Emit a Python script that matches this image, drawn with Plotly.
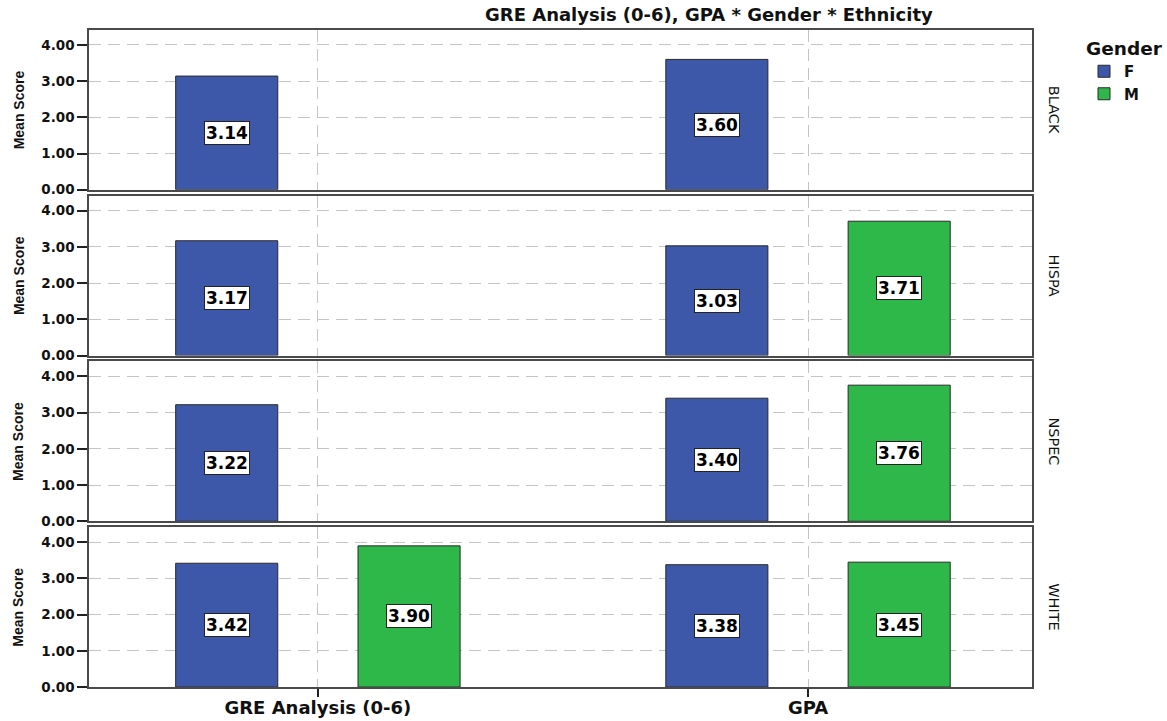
import plotly.graph_objects as go

# ---------------- data ----------------
ethnicities = ["BLACK", "HISPA", "NSPEC", "WHITE"]
measures = ["GRE Analysis (0-6)", "GPA"]
gender_labels = ["F", "M"]
female_black = [3.14, 3.60]
female_hispa = [3.17, 3.03]
female_nspec = [3.22, 3.40]
female_white = [3.42, 3.38]
male_black = [None, None]
male_hispa = [None, 3.71]
male_nspec = [None, 3.76]
male_white = [3.90, 3.45]
y_ticks = [0, 1, 2, 3, 4]
title_text = "GRE Analysis (0-6), GPA * Gender * Ethnicity"
y_title = "Mean Score"
legend_title = "Gender"

female_rows = [female_black, female_hispa, female_nspec, female_white]
male_rows = [male_black, male_hispa, male_nspec, male_white]

# ---------------- style / layout ----------------
W = 1167
REF_H = 721          # reference image height (layout positions measured in it)
FIG_H = 728          # figure height (screenshot is compressed vertically to 721)
X0, X1 = 89, 1032
TOPS = [30, 196, 362, 528]
PH = 160
COL_F = "#3d58a8"
COL_M = "#2eb84a"
EDGE = "#2a2a2a"
FRAME = "#4a4a4a"
GRID = "#c4c4c4"
BARGAP = 0.256
BARGROUPGAP = 0.44
OFF = (1 - BARGAP) / 4
BOLD_FAMILY = "DejaVu Sans"
PLAIN_FAMILY = "Liberation Sans, Arial"


def px(xp):
    return xp / W


def py(yp):
    return 1 - yp / REF_H


fig = go.Figure()
annotations = []
x_idx = list(range(len(measures)))

for i, eth in enumerate(ethnicities):
    sfx = "" if i == 0 else str(i + 1)
    for g, (vals, col) in enumerate([(female_rows[i], COL_F), (male_rows[i], COL_M)]):
        fig.add_trace(go.Bar(
            x=x_idx, y=vals, name=gender_labels[g],
            marker=dict(color=col, line=dict(color=EDGE, width=1)),
            legendgroup=gender_labels[g], showlegend=(i == 0),
            xaxis="x" + sfx, yaxis="y" + sfx, hoverinfo="skip",
        ))
        for j, v in enumerate(vals):
            if v is None:
                continue
            annotations.append(dict(
                x=j + (-OFF if g == 0 else OFF), y=v / 2,
                xref="x" + sfx, yref="y" + sfx,
                text=f"{v:.2f}", showarrow=False,
                bgcolor="white", bordercolor="#222", borderwidth=1, borderpad=1,
                font=dict(family=BOLD_FAMILY, size=17, color="black", weight="bold"),
            ))
    top = py(TOPS[i])
    bot = py(TOPS[i] + PH)
    last = i == len(ethnicities) - 1
    fig.layout["xaxis" + sfx] = dict(
        domain=[px(X0), px(X1)], anchor="y" + sfx,
        range=[-0.467, 1.457], tickvals=x_idx, ticktext=measures,
        showticklabels=last, ticks="outside" if last else "", ticklen=8,
        tickcolor="#222", tickwidth=2, ticklabelstandoff=-4,
        showgrid=True, gridcolor=GRID, griddash="12px,7px", gridwidth=1.3,
        showline=True, linecolor=FRAME, linewidth=1.5, mirror=True,
        zeroline=False, matches="x" if i > 0 else None,
        tickfont=dict(family=BOLD_FAMILY, size=18, color="#111", weight="bold"),
        fixedrange=True,
    )
    fig.layout["yaxis" + sfx] = dict(
        domain=[bot, top], anchor="x" + sfx,
        range=[0, PH / 36.25], tickvals=y_ticks,
        ticktext=[f"{t:.2f}" for t in y_ticks],
        ticks="outside", ticklen=10, tickcolor="#222", tickwidth=2,
        showgrid=True, gridcolor=GRID, griddash="12px,7px", gridwidth=1.3,
        showline=True, linecolor=FRAME, linewidth=1.5, mirror=True,
        zeroline=False,
        tickfont=dict(family=BOLD_FAMILY, size=13.5, color="#111", weight="bold"),
        fixedrange=True,
    )
    ymid = py(TOPS[i] + PH / 2)
    annotations.append(dict(
        x=px(18.5), y=ymid, xref="paper", yref="paper", text=y_title,
        textangle=-90, showarrow=False, xanchor="center", yanchor="middle",
        font=dict(family=PLAIN_FAMILY, size=14, color="#111", weight="bold"),
    ))
    annotations.append(dict(
        x=px(1054), y=ymid, xref="paper", yref="paper", text=eth,
        textangle=90, showarrow=False, xanchor="center", yanchor="middle",
        font=dict(family=BOLD_FAMILY, size=14.5, color="#111"),
    ))

annotations.append(dict(
    x=px(709), y=py(15), xref="paper", yref="paper", text=title_text,
    showarrow=False, xanchor="center", yanchor="middle",
    font=dict(family=BOLD_FAMILY, size=18, color="#111", weight="bold"),
))

fig.update_layout(
    width=W, height=FIG_H, autosize=False,
    margin=dict(l=0, r=0, t=0, b=0),
    paper_bgcolor="white", plot_bgcolor="white",
    barmode="group", bargap=BARGAP, bargroupgap=BARGROUPGAP,
    annotations=annotations,
    legend=dict(
        x=px(1084), y=py(31), xanchor="left", yanchor="top",
        title=dict(text=legend_title, font=dict(family=BOLD_FAMILY, size=18.5, color="#111", weight="bold")),
        font=dict(family=BOLD_FAMILY, size=15, color="#111", weight="bold"),
        tracegroupgap=0, itemclick=False, itemdoubleclick=False,
        bgcolor="rgba(0,0,0,0)",
    ),
    showlegend=True,
)

fig.write_html(
    "out.html",
    config={"displayModeBar": False},
    post_script="document.body.style.margin='0';document.body.style.overflow='hidden';",
)
